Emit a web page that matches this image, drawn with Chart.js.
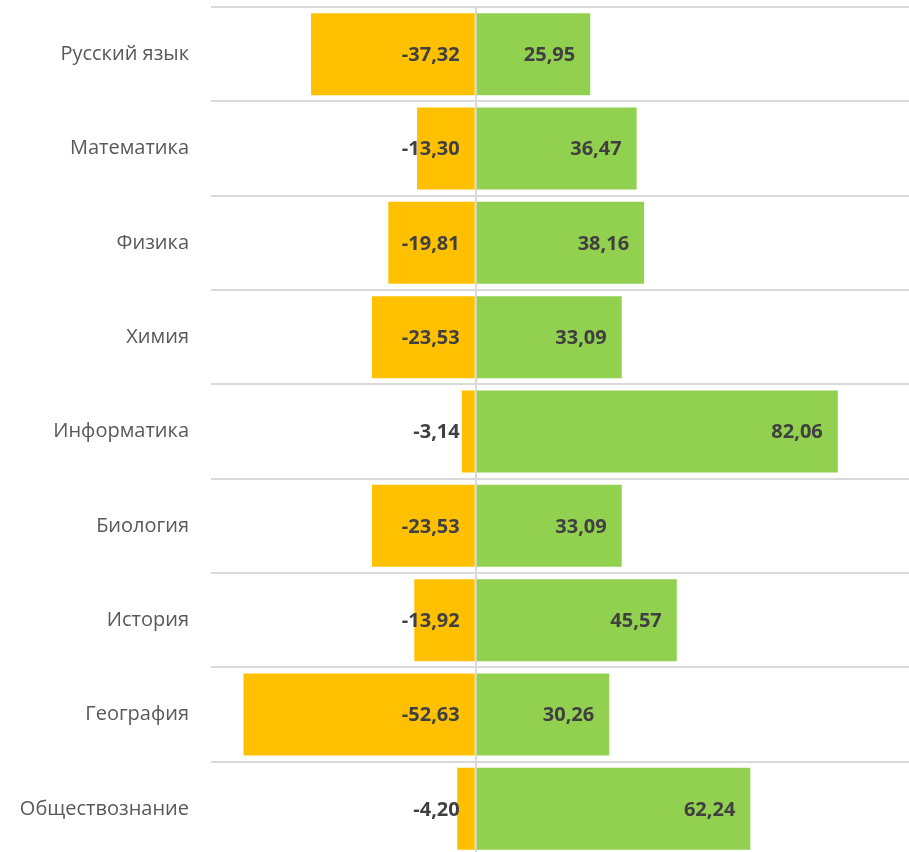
<!DOCTYPE html>
<html>
<head>
<meta charset="utf-8">
<script src="https://cdn.jsdelivr.net/npm/chart.js@4"></script>
<style>
    html, body { margin: 0; padding: 0; overflow: hidden; background: #fff; }
    #wrap { width: 909px; height: 856px; position: relative; }
</style>
</head>
<body>
<div id="wrap"><canvas id="chart"></canvas></div>
<script>
const subjects = ['Русский язык', 'Математика', 'Физика', 'Химия', 'Информатика', 'Биология', 'История', 'География', 'Обществознание'];
const lossValues = [-37.32, -13.30, -19.81, -23.53, -3.14, -23.53, -13.92, -52.63, -4.20];
const gainValues = [25.95, 36.47, 38.16, 33.09, 82.06, 33.09, 45.57, 30.26, 62.24];

const fmt = v => v.toFixed(2).replace('.', ',');

// labels sit right-aligned near the right end of each bar
const valueLabels = {
    id: 'valueLabels',
    afterDatasetsDraw(chart) {
        const ctx = chart.ctx;
        ctx.save();
        ctx.font = 'bold 20px "Open Sans"';
        ctx.fillStyle = '#404040';
        ctx.textAlign = 'right';
        ctx.textBaseline = 'middle';
        chart.data.datasets.forEach((ds, i) => {
            chart.getDatasetMeta(i).data.forEach((bar, j) => {
                const right = Math.max(bar.x, bar.base);
                ctx.fillText(fmt(ds.data[j]), right - 15, bar.y + 1);
            });
        });
        ctx.restore();
    }
};

new Chart(document.getElementById('chart').getContext('2d'), {
    type: 'bar',
    data: {
        labels: subjects,
        datasets: [{
            data: lossValues,
            backgroundColor: '#FFC000',
            categoryPercentage: 0.87,
            barPercentage: 1
        }, {
            data: gainValues,
            backgroundColor: '#92D050',
            categoryPercentage: 0.87,
            barPercentage: 1
        }]
    },
    options: {
        indexAxis: 'y',
        responsive: true,
        maintainAspectRatio: false,
        animation: false,
        layout: { padding: { top: 7, left: 0, right: 0, bottom: 0 } },
        plugins: { legend: { display: false }, tooltip: { enabled: false } },
        scales: {
            x: {
                stacked: true,
                min: -60,
                max: 98.2,
                ticks: { display: false, stepSize: 10 },
                border: { display: false },
                grid: {
                    drawTicks: false,
                    lineWidth: 2,
                    color: c => c.tick && c.tick.value === 0 ? '#d9d9d9' : 'rgba(0,0,0,0)'
                },
                afterFit(scale) {
                    scale.height = 0;
                    scale.paddingLeft = 0;
                    scale.paddingRight = 0;
                }
            },
            y: {
                stacked: true,
                border: { display: false },
                grid: { color: '#d9d9d9', lineWidth: 2, drawTicks: false },
                ticks: {
                    color: '#595959',
                    padding: 22,
                    font: { family: '"Open Sans"', size: 20 }
                },
                afterFit(scale) {
                    scale.width = 211;
                    scale.paddingTop = 0;
                    scale.paddingBottom = 0;
                }
            }
        }
    },
    plugins: [valueLabels]
});
</script>
</body>
</html>
